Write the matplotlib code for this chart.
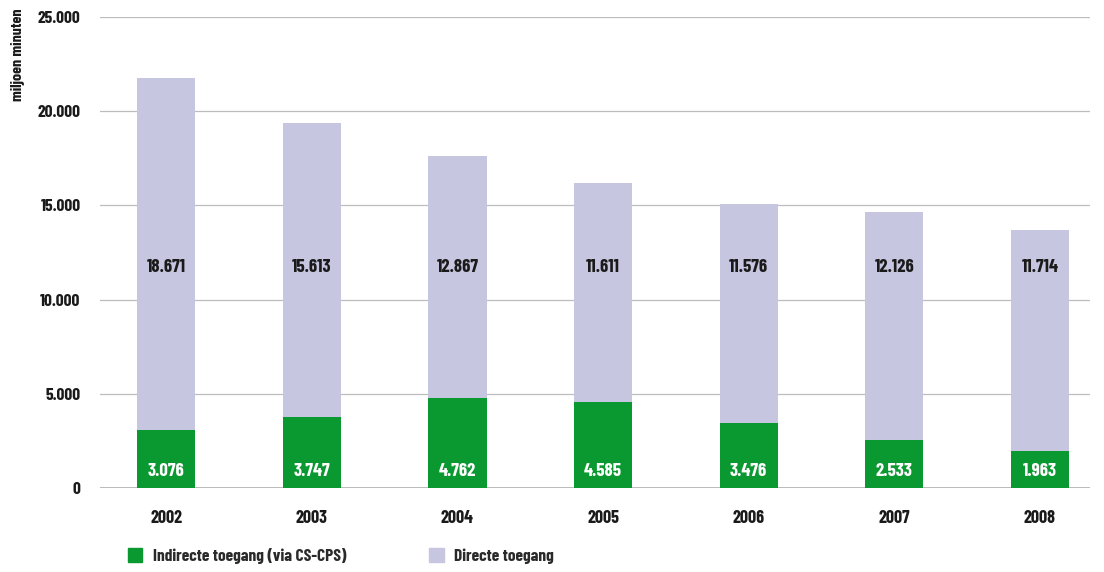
import matplotlib
matplotlib.use("Agg")
import matplotlib.pyplot as plt
from matplotlib import font_manager as fm
from matplotlib.patches import Patch
import numpy as np

years = ["2002", "2003", "2004", "2005", "2006", "2007", "2008"]
indirect = [3076, 3747, 4762, 4585, 3476, 2533, 1963]
direct = [18671, 15613, 12867, 11611, 11576, 12126, 11714]
yticks = [0, 5000, 10000, 15000, 20000, 25000]
ytick_labels = ["0", "5.000", "10.000", "15.000", "20.000", "25.000"]
series_names = ["Indirecte toegang (via CS-CPS)", "Directe toegang"]

GREEN = "#0a9830"
LAV = "#c6c6e1"

available = {f.name for f in fm.fontManager.ttflist}
candidates = ["Barlow Condensed", "Roboto Condensed", "IBM Plex Sans Condensed",
              "Liberation Sans Narrow", "DejaVu Sans"]
main_font = next(c for c in candidates if c in available or c == "DejaVu Sans")
plt.rcParams["font.family"] = [main_font, "DejaVu Sans"]
plt.rcParams["font.weight"] = "bold"
plt.rcParams["font.stretch"] = "condensed"

def fmt(v):
    return f"{v:,}".replace(",", ".")

fig = plt.figure(figsize=(11.04, 5.72), dpi=100)
ax = fig.add_axes([100/1104, 1-488/572, (1090-100)/1104, (488-17)/572])

x = np.arange(len(years))
w = 0.4
ax.bar(x, indirect, width=w, color=GREEN, zorder=3)
ax.bar(x, direct, width=w, bottom=indirect, color=LAV, zorder=3)

for xi, vi, vd in zip(x, indirect, direct):
    ax.text(xi, 850, fmt(vi), ha="center", va="center", color="white",
            fontsize=13.5, fontweight="bold", zorder=4)
    ax.text(xi, 11700, fmt(vd), ha="center", va="center", color="#1a1a1a",
            fontsize=13.5, fontweight="bold", zorder=4)

ax.set_xlim(-0.454, 6.344)
ax.set_ylim(0, 25000)
ax.set_yticks(yticks)
ax.set_yticklabels(ytick_labels)
ax.set_xticks(x)
ax.set_xticklabels(years)
ax.tick_params(axis="both", length=0, labelsize=13, colors="#1a1a1a")
ax.tick_params(axis="y", labelsize=12.5, pad=14)
ax.tick_params(axis="x", pad=16)
for s in ax.spines.values():
    s.set_visible(False)
ax.yaxis.grid(True, color="#bdbdbd", linewidth=0.9, zorder=0)
ax.axhline(0, color="#b5b5b5", linewidth=2, zorder=2)

fig.text(18/1104, 1-55/572, "miljoen minuten", rotation=90, ha="center", va="center",
         fontsize=11.5, fontweight="bold", color="#1a1a1a")

handles = [Patch(color=GREEN), Patch(color=LAV)]
leg = fig.legend(handles, series_names, loc="center left",
                 bbox_to_anchor=(112/1104, 1-556/572), ncol=2, frameon=False,
                 fontsize=12.5, handlelength=0.85, handleheight=0.85,
                 columnspacing=4.75, handletextpad=0.6)
for t in leg.get_texts():
    t.set_color("#2a2a2a")

fig.savefig("out.png", dpi=100)
